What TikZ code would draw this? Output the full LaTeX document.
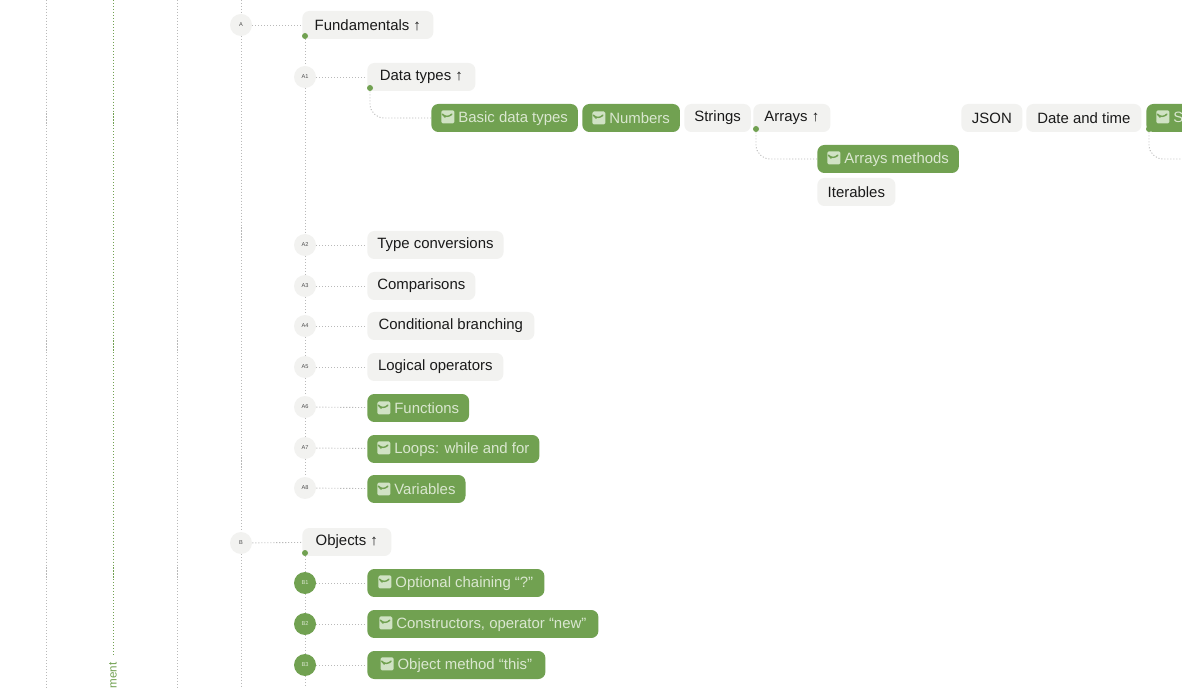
\documentclass[tikz,border=0pt]{standalone}
\usepackage{fontspec}
\setmainfont{Liberation Sans}
\definecolor{boxgray}{RGB}{242,242,240}
\definecolor{leaf}{RGB}{113,161,81}
\definecolor{leaftext}{RGB}{218,231,208}
\definecolor{chkfill}{RGB}{208,226,196}
\definecolor{linegray}{RGB}{185,185,185}
\definecolor{ink}{RGB}{26,26,26}
\newcommand{\chk}{\tikz[x=1cm,y=1cm,baseline=0.02cm]{\fill[chkfill,rounded corners=0.8pt] (0,0) rectangle (0.26,0.26); \draw[leaf,line width=0.8pt,line cap=round,line join=round] (0.075,0.125) -- (0.115,0.08) -- (0.19,0.165);}\hspace{0.08cm}}
\begin{document}
\begin{tikzpicture}[x=0.02cm,y=-0.02cm,font=\fontsize{8.5}{10}\selectfont,
  item/.style={rounded corners=4pt,anchor=west,minimum height=0.56cm,inner xsep=0.2cm,text=ink,fill=boxgray},
  done/.style={item,fill=leaf,text=leaftext},
  wd/.style={minimum width=#1*0.02cm},
  tag/.style={circle,fill=boxgray,minimum size=0.44cm,inner sep=0pt,font=\fontsize{3.2}{4}\selectfont,text=black!70},
  donetag/.style={tag,fill=leaf,text=leaftext},
  dot/.style={circle,fill=leaf,minimum size=0.12cm,inner sep=0pt},
  link/.style={linegray,line width=0.5pt,dash pattern=on 0.6pt off 1.1pt}]
                \fill[white] (0,0) rectangle (1182,688);
                \useasboundingbox (0,0) rectangle (1182,688);

                % guide lines on the left
                \draw[link] (46,0) -- (46,688);
                \draw[link] (177,0) -- (177,688);
                \draw[link,leaf] (113,0) -- (113,655);
                \node[rotate=90,anchor=east,text=leaf,font=\fontsize{6.6}{8}\selectfont,inner sep=0pt] at (113,662) (track) {ment};

                % part A
                \node[tag] at (241,25) (a) {A};
                \node[item,wd=131] at (302,25) (fund) {Fundamentals ↑};
                \node[tag] at (305,77) (a1) {A1};
                \node[item,wd=108] at (367,77) (dtypes) {Data types ↑};
                \node[done,wd=146] at (431,118) (basic) {\chk Basic data types};
                \node[done,wd=96] at (582,118) (numbers) {\chk Numbers};
                \node[item,wd=64] at (684,118) (strings) {Strings};
                \node[item,wd=77] at (753,118) (arrays) {Arrays ↑};
                \node[done,wd=140] at (817,159) (arrmeth) {\chk Arrays methods};
                \node[item,wd=78] at (817,192) (iter) {Iterables};
                \node[item,wd=61] at (961,118) (json) {JSON};
                \node[item,wd=115] at (1026,118) (date) {Date and time};
                \node[done] at (1146,118) (sym) {\chk Sy\hspace{2cm}};
                \node[tag] at (305,245) (a2) {A2};
                \node[item,wd=133] at (367,245) (typeconv) {Type conversions};
                \node[tag] at (305,286) (a3) {A3};
                \node[item,wd=107] at (367,286) (comp) {Comparisons};
                \node[tag] at (305,326) (a4) {A4};
                \node[item,wd=167] at (367,326) (cond) {Conditional branching};
                \node[tag] at (305,367) (a5) {A5};
                \node[item,wd=136] at (367,367) (logic) {Logical operators};
                \node[tag] at (305,407) (a6) {A6};
                \node[done,wd=101] at (367,408) (func) {\chk Functions};
                \node[tag] at (305,448) (a7) {A7};
                \node[done,wd=169] at (367,449) (loops) {\chk Loops: while and for};
                \node[tag] at (305,488) (a8) {A8};
                \node[done,wd=97] at (367,489) (vars) {\chk Variables};

                % part B
                \node[tag] at (241,543) (b) {B};
                \node[item,wd=89] at (302,542) (objects) {Objects ↑};
                \node[donetag] at (305,583) (b1) {B1};
                \node[done,wd=177] at (367,583) (optch) {\chk Optional chaining “?”};
                \node[donetag] at (305,624) (b2) {B2};
                \node[done,wd=231] at (367,624) (constr) {\chk Constructors, operator “new”};
                \node[donetag] at (305,665) (b3) {B3};
                \node[done,wd=178] at (367,665) (objthis) {\chk Object method “this”};

                % branch dots
                \node[dot] at (305,36) (fdot) {};
                \node[dot] at (370,88) (ddot) {};
                \node[dot] at (756,129) (adot) {};
                \node[dot] at (1149,129) (sdot) {};
                \node[dot] at (305,553) (odot) {};

                \coordinate (top) at (241,0);
                \coordinate (bottom) at (241,688);
                \coordinate (bend) at (305,688);
                \coordinate (syend) at (1182,159);

                \draw[link] (top) -- (a) -- (b) -- (bottom);
                \draw[link] (fdot) -- (a1) -- (a2) -- (a3) -- (a4) -- (a5) -- (a6) -- (a7) -- (a8);
                \draw[link] (odot) -- (b1) -- (b2) -- (b3) -- (bend);
                \draw[link,rounded corners=8pt] (ddot) |- (basic);
                \draw[link,rounded corners=8pt] (adot) |- (arrmeth);
                \draw[link,rounded corners=8pt] (sdot) |- (syend);

                \path[link]
                    (a) edge (fund)
                    (a1) edge (dtypes)
                    (a2) edge (typeconv)
                    (a3) edge (comp)
                    (a4) edge (cond)
                    (a5) edge (logic)
                    (a6) edge (func)
                    (a7) edge (loops)
                    (a8) edge (vars)
                    (b) edge (objects)
                    (b1) edge (optch)
                    (b2) edge (constr)
                    (b3) edge (objthis)
                    ;
            \end{tikzpicture}
\end{document}
